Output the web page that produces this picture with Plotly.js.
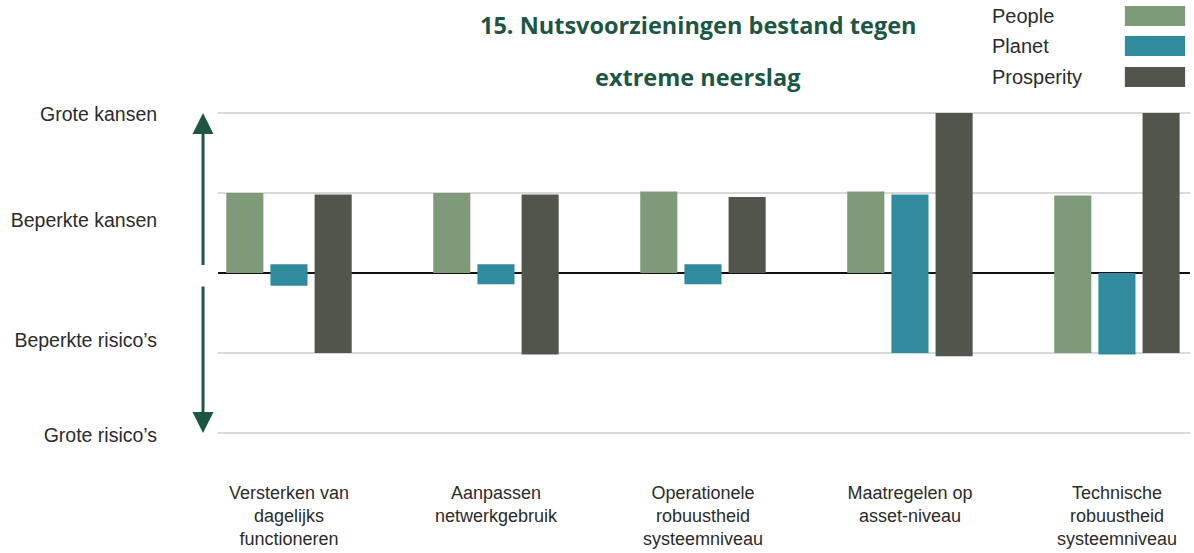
<!DOCTYPE html>
<html>
<head>
<meta charset="utf-8">
<script src="https://cdn.plot.ly/plotly-3.0.1.min.js"></script>
<style>
  html, body { margin: 0; padding: 0; background: #fff; }
  #chart { width: 1194px; height: 553px; }
</style>
</head>
<body>
<div id="chart"></div>
<script>
// categories and values (scale: -2 .. 2)
const categories = [
	'Versterken van<br>dagelijks<br>functioneren',
	'Aanpassen<br>netwerkgebruik',
	'Operationele<br>robuustheid<br>systeemniveau',
	'Maatregelen op<br>asset-niveau',
	'Technische<br>robuustheid<br>systeemniveau'
];
const seriesNames = ['People', 'Planet', 'Prosperity'];
const seriesColors = ['#7f9a78', '#2f8b9d', '#52554b'];

// each bar floats from a low value to a high value
const peopleLow = [0, 0, 0, 0, -1];
const peopleHigh = [1, 1, 1.02, 1.02, 0.97];
const planetLow = [-0.16, -0.14, -0.14, -1, -1.02];
const planetHigh = [0.11, 0.11, 0.11, 0.98, 0];
const prosperityLow = [-1, -1.02, 0, -1.04, -1];
const prosperityHigh = [0.98, 0.98, 0.95, 2, 2];

const scaleValues = [-2, -1, 0, 1, 2];
const scaleLabelPos = [1.99, 0.66, -0.84, -2.03];
const scaleLabels = ['Grote kansen', 'Beperkte kansen', 'Beperkte risico’s', 'Grote risico’s'];
const titleLines = ['15. Nutsvoorzieningen bestand tegen', 'extreme neerslag'];

const lows = [peopleLow, planetLow, prosperityLow];
const highs = [peopleHigh, planetHigh, prosperityHigh];
const xs = categories.map((c, i) => i);

const green = '#1d5643';
const textColor = '#2b2b2b';
const yRange = [-2.0625, 2.0625];

let traces = seriesNames.map((name, s) => ({
	type: 'bar',
	name: name,
	x: xs,
	base: lows[s],
	y: highs[s].map((h, i) => h - lows[s][i]),
	marker: { color: seriesColors[s], line: { width: 0 } },
	showlegend: false,
	hoverinfo: 'skip'
}));

// invisible trace to carry the side labels on a second y axis
traces.push({
	type: 'scatter', x: [0], y: [0], yaxis: 'y2',
	mode: 'markers', marker: { opacity: 0 }, showlegend: false, hoverinfo: 'skip'
});

let annotations = [];
let shapes = [];

// title, two lines with a wide gap
const titleY = [1.2515, 1.094];
titleLines.forEach((t, i) => {
	annotations.push({
		xref: 'paper', yref: 'paper', x: 0.494, y: titleY[i],
		xanchor: 'center', yanchor: 'middle', showarrow: false,
		text: '<b>' + t + '</b>',
		font: { family: 'Open Sans, sans-serif', size: 23.5, color: green }
	});
});

// legend: label on the left, swatch on the right
const legendY = [1.279, 1.188, 1.094];
seriesNames.forEach((name, i) => {
	annotations.push({
		xref: 'paper', yref: 'paper', x: 0.794, y: legendY[i],
		xanchor: 'left', yanchor: 'middle', showarrow: false,
		text: name,
		font: { family: 'Liberation Sans, Arial, sans-serif', size: 20, color: textColor }
	});
	shapes.push({
		type: 'rect', xref: 'paper', yref: 'paper', layer: 'above',
		x0: 0.933, x1: 0.995, y0: legendY[i] - 0.0303, y1: legendY[i] + 0.0303,
		fillcolor: seriesColors[i], line: { width: 0 }
	});
});

// double arrow along the scale, split at the zero line
const arrowX = -0.0154;
[[2, 0.08], [-2, -0.15]].forEach(([tip, tail]) => {
	annotations.push({
		xref: 'paper', yref: 'y', x: arrowX, y: tip,
		axref: 'pixel', ayref: 'y', ax: 0, ay: tail,
		text: '', showarrow: true, arrowhead: 2, arrowsize: 1.4,
		arrowwidth: 3, arrowcolor: green
	});
});

const layout = {
	width: 1194, height: 553,
	margin: { l: 218, r: 4, t: 108, b: 115 },
	paper_bgcolor: '#ffffff', plot_bgcolor: '#ffffff',
	barmode: 'group', bargap: 0.36, bargroupgap: 0.16,
	xaxis: {
		range: [-0.343, 4.353],
		tickvals: xs, ticktext: categories,
		ticks: 'outside', ticklen: 38, tickcolor: 'rgba(0,0,0,0)',
		showgrid: false, zeroline: false, showline: false,
		tickfont: { family: 'Liberation Sans Narrow, Arial Narrow, sans-serif', size: 18, color: textColor }
	},
	yaxis: {
		range: yRange,
		tickvals: scaleValues, showticklabels: false,
		showgrid: true, gridcolor: '#d9d9d9', gridwidth: 1.5,
		zeroline: true, zerolinecolor: '#111111', zerolinewidth: 2,
		showline: false, fixedrange: true
	},
	yaxis2: {
		overlaying: 'y', side: 'left',
		range: yRange,
		tickvals: scaleLabelPos, ticktext: scaleLabels,
		ticks: 'outside', ticklen: 56, tickcolor: 'rgba(0,0,0,0)',
		showgrid: false, zeroline: false, showline: false,
		tickfont: { family: 'Liberation Sans, Arial, sans-serif', size: 19.5, color: textColor }
	},
	annotations: annotations,
	shapes: shapes,
	showlegend: false
};

Plotly.newPlot('chart', traces, layout, { displayModeBar: false, staticPlot: true });
</script>
</body>
</html>
